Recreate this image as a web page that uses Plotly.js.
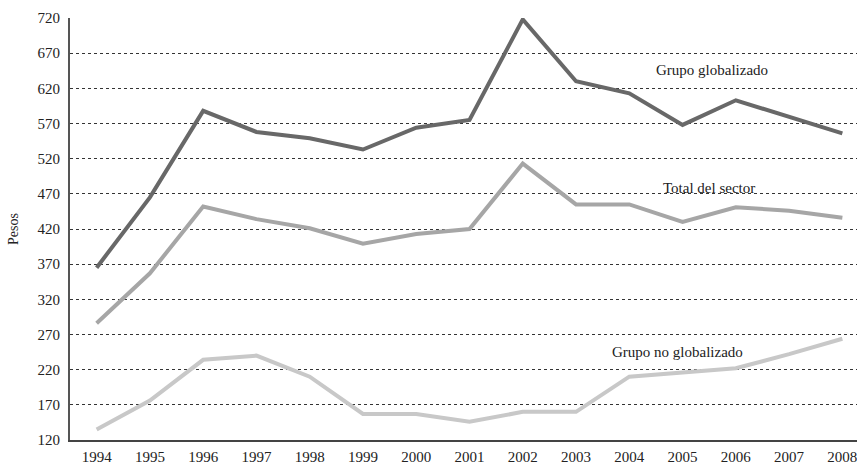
<!DOCTYPE html>
<html>
<head>
<meta charset="utf-8">
<script src="https://cdn.plot.ly/plotly-3.0.1.min.js"></script>
<style>
  html, body { margin: 0; padding: 0; overflow: hidden; background: #fff; }
  #chart { width: 880px; height: 466px; }
</style>
</head>
<body>
<div id="chart"></div>
<script>
const years = [1994, 1995, 1996, 1997, 1998, 1999, 2000, 2001, 2002, 2003, 2004, 2005, 2006, 2007, 2008];
const grupoGlobalizado = [365, 465, 588, 558, 549, 533, 564, 575, 718, 630, 613, 568, 603, 579, 556];
const totalSector = [286, 357, 452, 434, 421, 399, 413, 420, 513, 455, 455, 430, 451, 446, 436];
const grupoNoGlobalizado = [135, 176, 234, 240, 210, 157, 157, 146, 160, 160, 210, 216, 222, 242, 264];
const yTicks = [120, 170, 220, 270, 320, 370, 420, 470, 520, 570, 620, 670, 720];
const seriesNames = ["Grupo globalizado", "Total del sector", "Grupo no globalizado"];

const font = "'Liberation Serif', 'Times New Roman', serif";

const traces = [
  { x: years, y: grupoGlobalizado, name: seriesNames[0], color: "#686868" },
  { x: years, y: totalSector, name: seriesNames[1], color: "#a6a6a6" },
  { x: years, y: grupoNoGlobalizado, name: seriesNames[2], color: "#c8c8c8" }
].map(s => ({
  type: "scatter", mode: "lines", x: s.x, y: s.y, name: s.name,
  line: { color: s.color, width: 4 }, cliponaxis: false, hoverinfo: "x+y"
}));

const layout = {
  width: 880, height: 466,
  margin: { l: 70, r: 11, t: 18, b: 26 },
  paper_bgcolor: "#fff", plot_bgcolor: "#fff",
  showlegend: false,
  font: { family: font, size: 15, color: "#222" },
  xaxis: {
    range: [1993.5, 2008.5],
    tickvals: years, ticktext: years.map(String),
    showgrid: false, zeroline: false,
    showline: true, linecolor: "#444", linewidth: 1.5,
    ticks: "", ticklabelstandoff: 2,
    tickfont: { family: font, size: 15, color: "#222" }
  },
  yaxis: {
    range: [120, 720],
    tickvals: yTicks,
    showgrid: true, gridcolor: "#333", gridwidth: 1, griddash: "3px,3px",
    zeroline: false,
    showline: true, linecolor: "#555", linewidth: 2,
    ticks: "", ticklabelstandoff: 5,
    tickfont: { family: font, size: 15, color: "#222" },
    title: { text: "Pesos", font: { family: font, size: 14, color: "#222" }, standoff: 16 }
  },
  annotations: [
    { text: seriesNames[0], x: 2005.55, y: 646, xref: "x", yref: "y", showarrow: false,
      font: { family: font, size: 15, color: "#222" } },
    { text: seriesNames[1], x: 2005.5, y: 479, xref: "x", yref: "y", showarrow: false,
      font: { family: font, size: 15, color: "#222" } },
    { text: seriesNames[2], x: 2004.9, y: 245, xref: "x", yref: "y", showarrow: false,
      font: { family: font, size: 15, color: "#222" } }
  ]
};

Plotly.newPlot("chart", traces, layout, { displayModeBar: false, staticPlot: true });
</script>
</body>
</html>
